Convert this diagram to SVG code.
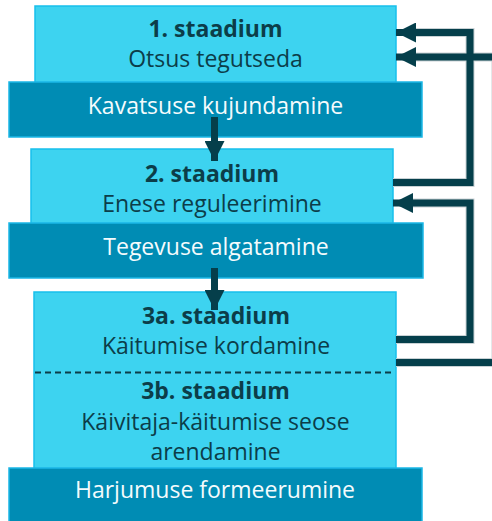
<svg xmlns="http://www.w3.org/2000/svg" width="492" height="521" viewBox="0 0 492 521">
<style>
.box{fill:#3dd3f0;stroke:#17c0ec;stroke-width:1.5}
.bar{fill:#008cb4;stroke:#1ab7e6;stroke-width:1.5}
.t{font-family:"Open Sans","Noto Sans",sans-serif;font-size:23px;text-anchor:middle}
.d{fill:#0c3d49}
.w{fill:#f4fbfd}
.b{font-weight:bold}
.halo{fill:none;stroke:#c9d2d5;stroke-width:9}
.ln{fill:none;stroke:#053f4b;stroke-width:7}
</style>
<defs>
<marker id="ah" viewBox="0 0 20 20" refX="20" refY="10" markerWidth="20" markerHeight="20" markerUnits="userSpaceOnUse" orient="auto">
<path d="M0,0 L20,10 L0,20 Z" fill="#053f4b"/>
</marker>
</defs>
<g id="stage1">
<rect class="box" x="35" y="6" width="361" height="77"/>
<text class="t d b" x="215.5" y="37">1. staadium</text>
<text class="t d" x="215.5" y="67">Otsus tegutseda</text>
</g>
<g id="bar1">
<rect class="bar" x="9" y="82" width="413" height="55"/>
<text class="t w" x="215.5" y="114">Kavatsuse kujundamine</text>
</g>
<g id="stage2">
<rect class="box" x="31" y="149" width="362" height="75"/>
<text class="t d b" x="212" y="182">2. staadium</text>
<text class="t d" x="212" y="212">Enese reguleerimine</text>
</g>
<g id="bar2">
<rect class="bar" x="9" y="223" width="414" height="55"/>
<text class="t w" x="216" y="255">Tegevuse algatamine</text>
</g>
<g id="stage3">
<rect class="box" x="34" y="292" width="362" height="177"/>
<text class="t d b" x="216" y="324">3a. staadium</text>
<text class="t d" x="216" y="354">Käitumise kordamine</text>
<line x1="35" y1="372.5" x2="392" y2="372.5" stroke="#0c3d49" stroke-width="1.8" stroke-dasharray="6,4"/>
<text class="t d b" x="215.5" y="399">3b. staadium</text>
<text class="t d" x="215.5" y="430">Käivitaja-käitumise seose</text>
<text class="t d" x="215.5" y="460">arendamine</text>
</g>
<g id="bar3">
<rect class="bar" x="9" y="468" width="413" height="56"/>
<text class="t w" x="215" y="498">Harjumuse formeerumine</text>
</g>
<g id="connectors">
<path class="halo" d="M393,182.5 H470 V32.5 H412"/>
<path class="halo" d="M396,339.5 H470 V203 H410"/>
<path class="halo" d="M396,362.5 H496 V57 H412"/>
<path class="ln" d="M393,182.5 H470 V32.5 H396" marker-end="url(#ah)"/>
<path class="ln" d="M396,339.5 H470 V203 H393" marker-end="url(#ah)"/>
<path class="ln" d="M396,362.5 H496 V57 H396" marker-end="url(#ah)"/>
<path class="ln" d="M214.5,117 V161" marker-end="url(#ah)"/>
<path class="ln" d="M214.5,268 V310" marker-end="url(#ah)"/>
</g>
</svg>
